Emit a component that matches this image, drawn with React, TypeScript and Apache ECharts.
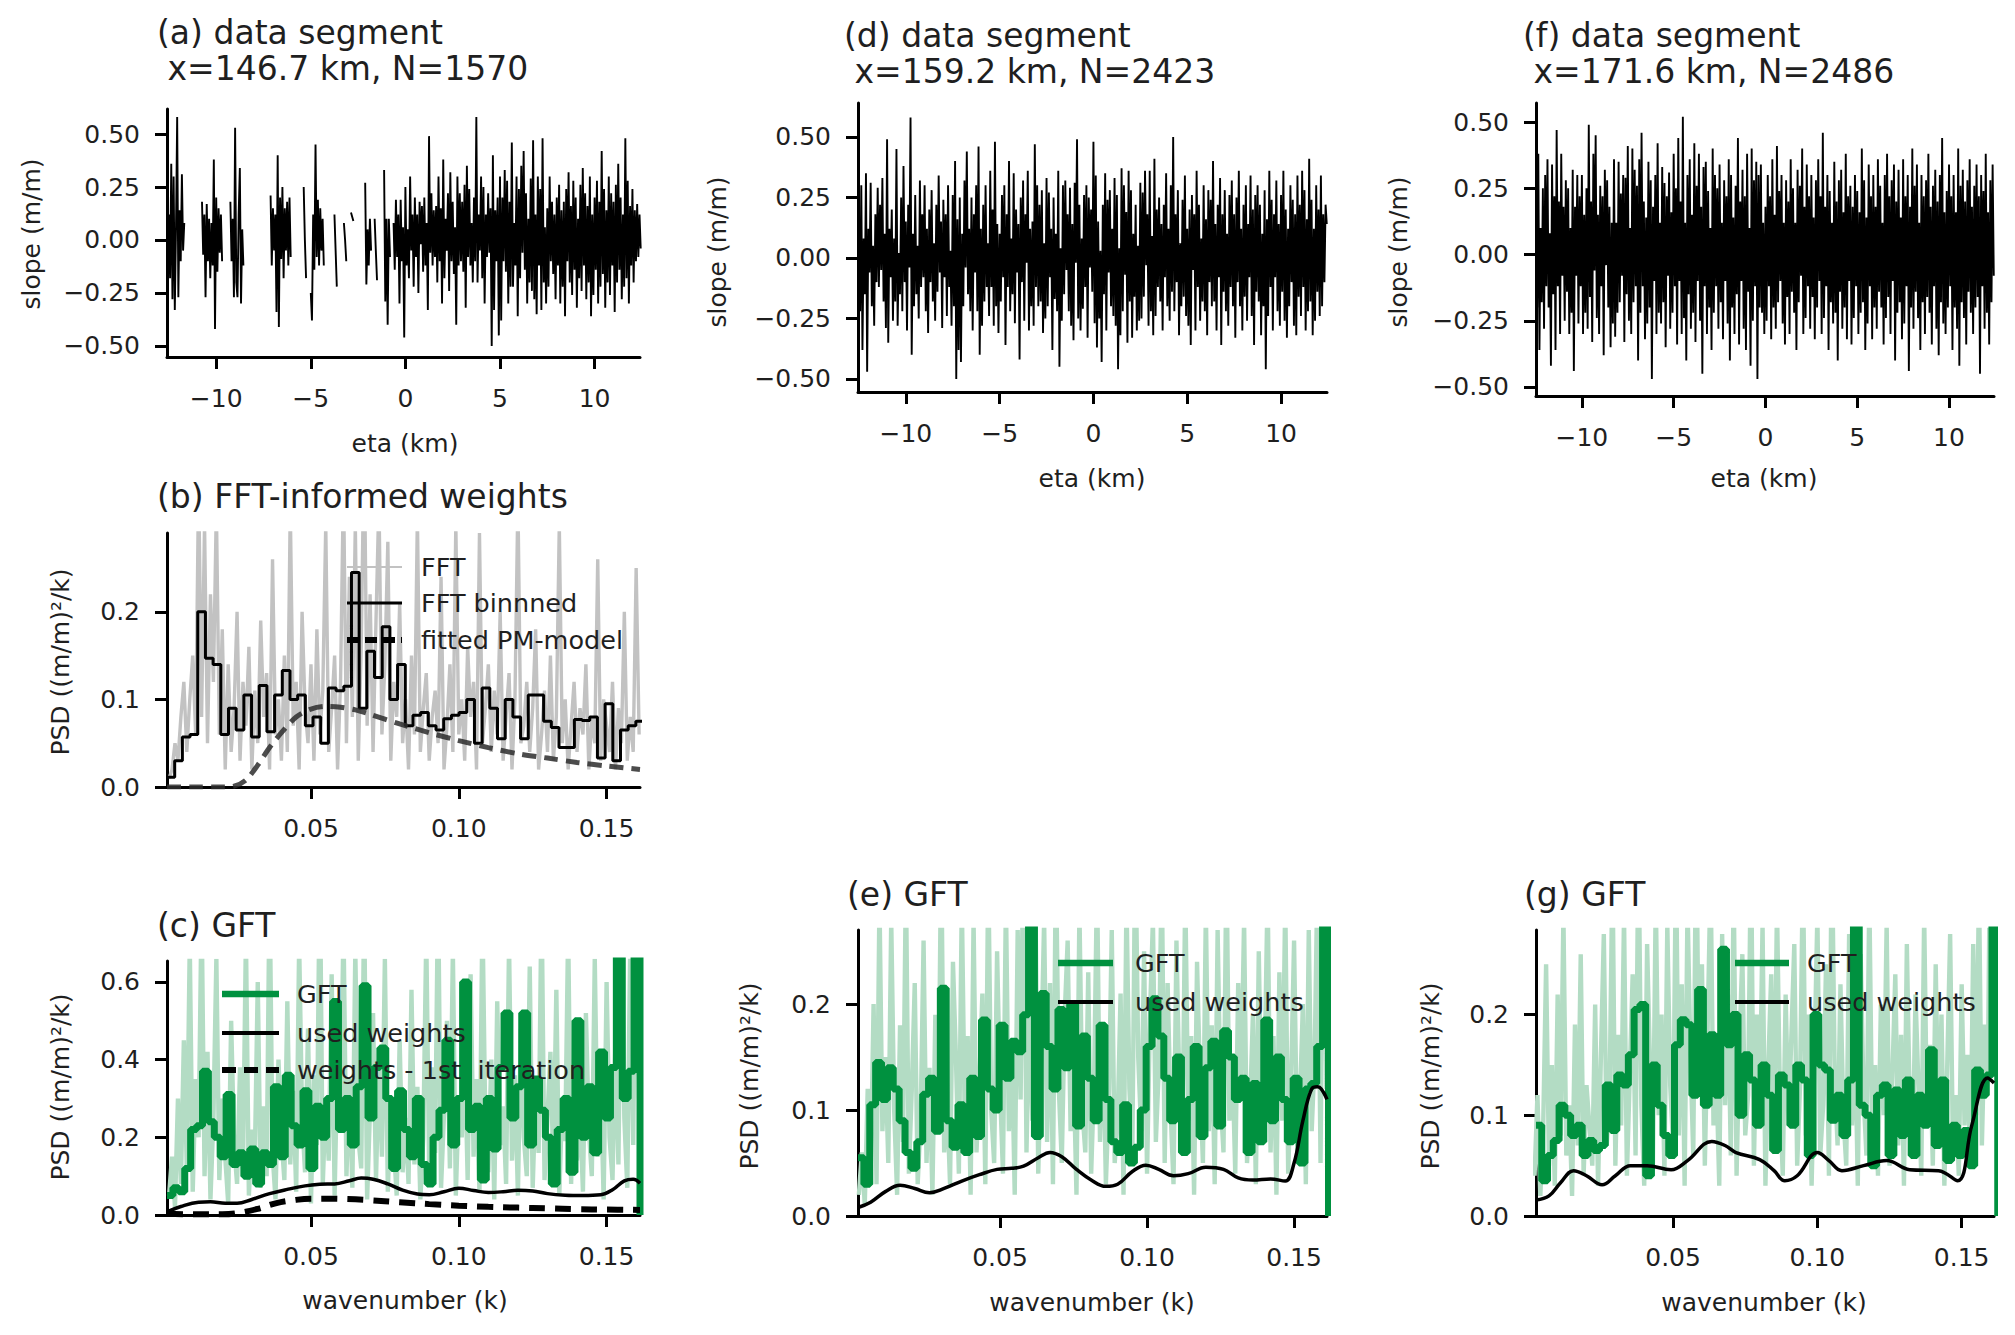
import * as React from "react";
import * as echarts from "echarts";

const FONT = "DejaVu Sans";
const INK = "#1f1f1f";
const GREEN = "#00913f";
const LIGHT_GREEN = "#b3dcc4";
const GREY = "#c2c2c2";

// ---------- tick labels ----------
const etaTicks = [-10, -5, 0, 5, 10];
const slopeTicks = [-0.5, -0.25, 0, 0.25, 0.5];
const kTicks = [0.05, 0.1, 0.15];
const psdTicksSmall = [0, 0.1, 0.2];
const psdTicksC = [0, 0.2, 0.4, 0.6];

// ---------- slope segments (eta grid, km) ----------
const ETA_START = -12.5;
const ETA_STEP = 0.0625;

// panel (a) has gaps: each piece starts at eta0
const slopeASegments: { eta0: number; values: number[] }[] = [
  { eta0: -12.5, values: [0.12, -0.18, 0.36, -0.28, 0.3, -0.33, 0.05, 0.58, -0.27, 0.14, -0.1, 0.31, -0.05, 0.08] },
  { eta0: -10.75, values: [0.18, -0.07, 0.12, -0.27, 0.17, -0.1, 0.1, -0.18, 0.08, -0.12, 0.38, -0.42, 0.2, -0.15, 0.15, -0.06, 0.12, -0.1] },
  { eta0: -9.25, values: [0.18, -0.1, 0.1, -0.27, 0.53, -0.2, -0.27, 0.12, 0.34, -0.3, 0.05, -0.12] },
  { eta0: -7.125, values: [0.21, -0.12, 0.15, -0.05, 0.12, -0.34, 0.4, -0.41, 0.2, -0.09, 0.25, -0.18, 0.15, -0.05, 0.18, -0.12, 0.2, -0.08] },
  { eta0: -5.375, values: [0.25, 0.0, -0.18] },
  { eta0: -5.0, values: [-0.25, -0.38, 0.12, -0.14, 0.45, -0.08, 0.19, -0.12, 0.15, -0.05, 0.1, -0.12] },
  { eta0: -3.75, values: [0.12, -0.05, -0.22] },
  { eta0: -3.25, values: [0.08, 0.0, -0.1] },
  { eta0: -2.875, values: [0.13, 0.11, 0.09] },
  { eta0: -2.125, values: [0.27, -0.21, 0.05, -0.12, 0.1, -0.05] },
  { eta0: -1.625, values: [0.1, -0.05, -0.19] },
  { eta0: -1.125, values: [0.33, -0.29, 0.1, -0.4, 0.1, -0.08] },
  {
    eta0: -0.625,
    values: [
      0.08, -0.14, 0.19, -0.08, 0.12, -0.3, 0.19, -0.1, 0.06, -0.46, 0.25, -0.12, 0.05, -0.18, 0.3, -0.05, 0.12, -0.22, 0.2, -0.08,
      0.12, -0.25, 0.18, -0.02, 0.16, -0.15, 0.2, -0.12, 0.08, -0.33, 0.49, -0.06, 0.22, -0.12, 0.14, -0.08, 0.16, -0.2, 0.3, -0.1,
      0.15, -0.3, 0.38, -0.18, 0.1, -0.05, 0.22, -0.24, 0.32, -0.1, 0.18, -0.16, 0.06, -0.4, 0.3, -0.12, 0.22, -0.1, 0.18, -0.15,
      0.26, -0.32, 0.35, -0.08, 0.24, -0.12, 0.08, -0.2, 0.2, -0.1, 0.58, -0.2, 0.12, -0.05, 0.3, -0.18, 0.25, -0.3, 0.12, -0.08,
      0.22, -0.06, 0.15, -0.5, 0.4, -0.33, 0.14, -0.1, 0.2, -0.45, 0.3, -0.38, 0.2, -0.1, 0.33, -0.15, 0.28, -0.3, 0.18, -0.22,
      0.46, -0.22, 0.08, -0.12, 0.3, -0.36, 0.24, -0.18, 0.35, -0.06, 0.42, -0.14, 0.22, -0.3, 0.1, -0.2, 0.29, -0.24, 0.47, -0.28,
      0.12, -0.35, 0.3, -0.12, 0.24, -0.33, 0.48, -0.2, 0.06, -0.3, 0.15, -0.22, 0.3, -0.1, 0.18, -0.16, 0.12, -0.28, 0.2, -0.12,
      0.26, -0.3, 0.14, -0.22, 0.18, -0.36, 0.24, -0.1, 0.32, -0.2, 0.16, -0.26, 0.28, -0.14, 0.2, -0.32, 0.1, -0.18, 0.26, -0.24,
      0.34, -0.12, 0.22, -0.28, 0.16, -0.2, 0.3, -0.36, 0.12, -0.26, 0.2, -0.14, 0.28, -0.3, 0.18, -0.22, 0.42, -0.16, 0.24, -0.32,
      0.14, -0.2, 0.3, -0.26, 0.22, -0.12, 0.18, -0.34, 0.26, -0.2, 0.36, -0.14, 0.2, -0.28, 0.12, -0.22, 0.48, -0.18, 0.28, -0.3,
      0.16, -0.12, 0.24, -0.2, 0.14, -0.1, 0.17, -0.08, 0.12, -0.04,
    ],
  },
];

const slopeD = [
  0.14, -0.22, 0.3, -0.38, 0.08, -0.15, 0.35, -0.47, 0.12, -0.06, 0.31, -0.2, 0.05, -0.28, 0.18, -0.1, 0.29, -0.12, 0.22, -0.05,
  0.33, -0.18, 0.1, -0.29, 0.49, -0.35, 0.12, -0.08, 0.2, -0.26, 0.08, -0.18, 0.45, -0.28, 0.02, -0.15, 0.25, -0.22, 0.38, -0.1,
  0.15, -0.3, 0.22, -0.04, 0.58, -0.4, 0.1, -0.2, 0.26, -0.15, 0.05, -0.25, 0.32, -0.12, 0.18, -0.08, 0.3, -0.22, 0.12, -0.31,
  0.2, -0.1, 0.28, -0.18, 0.06, -0.26, 0.22, -0.14, 0.34, -0.06, 0.15, -0.29, 0.24, -0.08, 0.18, -0.24, 0.3, -0.12, 0.03, -0.28,
  0.26, -0.2, 0.4, -0.5, 0.16, -0.38, 0.25, -0.43, 0.1, -0.2, 0.32, -0.04, 0.44, -0.15, 0.12, -0.22, 0.25, -0.3, 0.18, -0.06,
  0.3, -0.22, 0.46, -0.4, 0.12, -0.28, 0.22, -0.18, 0.3, -0.12, 0.06, -0.24, 0.36, -0.12, 0.2, -0.28, 0.48, -0.2, 0.14, -0.31,
  0.1, -0.18, 0.26, -0.08, 0.3, -0.36, 0.18, -0.12, 0.4, -0.22, 0.08, -0.15, 0.35, -0.27, 0.2, -0.06, 0.14, -0.42, 0.25, -0.1,
  0.32, -0.26, 0.18, -0.02, 0.36, -0.3, 0.12, -0.2, 0.15, -0.28, 0.47, -0.12, 0.3, -0.2, 0.22, -0.18, 0.28, -0.31, 0.06, -0.25,
  0.33, -0.2, 0.27, -0.08, 0.12, -0.38, 0.25, -0.17, 0.1, -0.22, 0.36, -0.45, 0.04, -0.26, 0.3, -0.15, 0.32, -0.05, 0.18, -0.22,
  0.29, -0.28, 0.14, -0.34, 0.31, -0.02, 0.49, -0.25, 0.22, -0.3, 0.08, -0.21, 0.26, -0.12, 0.3, -0.33, 0.25, -0.04, 0.2, -0.14,
  0.48, -0.27, 0.34, -0.37, 0.15, -0.25, 0.03, -0.43, 0.22, -0.15, 0.35, -0.3, 0.24, -0.06, 0.28, -0.2, 0.12, -0.24, 0.33, -0.28,
  0.26, -0.46, 0.04, -0.32, 0.37, -0.22, 0.3, -0.07, 0.19, -0.35, 0.36, -0.18, 0.28, -0.33, 0.1, -0.16, 0.22, -0.3, 0.05, -0.26,
  0.31, -0.25, 0.27, -0.16, 0.36, -0.03, 0.18, -0.28, 0.36, -0.22, 0.09, -0.32, 0.41, -0.24, 0.2, -0.12, 0.25, -0.18, 0.14, -0.3,
  0.22, -0.08, 0.35, -0.2, 0.12, -0.26, 0.3, -0.14, 0.5, -0.22, 0.18, -0.1, 0.28, -0.32, 0.06, -0.2, 0.24, -0.16, 0.34, -0.24,
  0.12, -0.28, 0.2, -0.36, 0.26, -0.05, 0.18, -0.3, 0.36, -0.12, 0.22, -0.26, 0.08, -0.18, 0.3, -0.22, 0.16, -0.32, 0.28, -0.1,
  0.24, -0.2, 0.4, -0.18, 0.14, -0.3, 0.22, -0.08, 0.33, -0.36, 0.18, -0.14, 0.28, -0.22, 0.1, -0.28, 0.26, -0.12, 0.32, -0.2,
  0.18, -0.33, 0.25, -0.1, 0.36, -0.2, 0.12, -0.3, 0.22, -0.16, 0.3, -0.26, 0.14, -0.08, 0.34, -0.24, 0.2, -0.36, 0.26, -0.14,
  0.3, -0.18, 0.22, -0.32, 0.1, -0.2, 0.28, -0.46, 0.16, -0.24, 0.36, -0.12, 0.24, -0.3, 0.18, -0.08, 0.32, -0.22, 0.14, -0.28,
  0.26, -0.14, 0.36, -0.26, 0.2, -0.33, 0.12, -0.2, 0.3, -0.1, 0.24, -0.28, 0.18, -0.32, 0.34, -0.16, 0.22, -0.24, 0.36, -0.12,
  0.28, -0.3, 0.16, -0.22, 0.41, -0.18, 0.24, -0.32, 0.12, -0.26, 0.3, -0.14, 0.2, -0.24, 0.34, -0.2, 0.18, -0.1, 0.22, 0.14,
];

const slopeF = [
  0.33, -0.2, 0.38, -0.36, 0.1, -0.18, 0.25, -0.28, 0.3, -0.12, 0.36, -0.2, 0.08, -0.42, 0.34, -0.15, 0.22, -0.36, 0.47, -0.12,
  0.2, -0.3, 0.38, -0.08, 0.18, -0.25, 0.28, -0.14, 0.25, -0.3, 0.1, -0.22, 0.32, -0.44, 0.18, -0.08, 0.3, -0.26, 0.22, -0.12,
  0.3, -0.3, 0.15, -0.22, 0.25, -0.28, 0.49, -0.16, 0.2, -0.33, 0.38, -0.06, 0.45, -0.24, 0.15, -0.3, 0.26, -0.12, 0.22, -0.38,
  0.32, -0.04, 0.28, -0.2, 0.18, -0.35, 0.12, -0.26, 0.36, -0.31, 0.12, -0.22, 0.35, -0.18, 0.23, -0.08, 0.3, -0.33, 0.29, -0.15,
  0.41, -0.25, 0.1, -0.3, 0.4, -0.18, 0.32, -0.12, 0.26, -0.4, 0.36, -0.22, 0.46, -0.12, 0.2, -0.32, 0.14, -0.26, 0.35, -0.2,
  0.28, -0.47, 0.18, -0.1, 0.3, -0.3, 0.42, -0.22, 0.12, -0.26, 0.33, -0.18, 0.27, -0.35, 0.22, -0.08, 0.31, -0.28, 0.16, -0.22,
  0.38, -0.12, 0.25, -0.34, 0.44, -0.1, 0.2, -0.3, 0.52, -0.24, 0.12, -0.4, 0.3, -0.15, 0.36, -0.28, 0.15, -0.22, 0.42, -0.33,
  0.26, -0.1, 0.38, -0.25, 0.18, -0.45, 0.33, -0.12, 0.35, -0.3, 0.24, -0.2, 0.1, -0.36, 0.4, -0.22, 0.3, -0.12, 0.25, -0.28,
  0.34, -0.18, 0.12, -0.32, 0.28, -0.1, 0.22, -0.26, 0.36, -0.4, 0.3, -0.2, 0.14, -0.3, 0.26, -0.15, 0.44, -0.34, 0.2, -0.1,
  0.32, -0.28, 0.22, -0.36, 0.38, -0.14, 0.1, -0.42, 0.4, -0.25, 0.28, -0.12, 0.35, -0.47, 0.3, -0.2, 0.34, -0.22, 0.12, -0.3,
  0.18, -0.25, 0.3, -0.12, 0.22, -0.32, 0.36, -0.2, 0.15, -0.28, 0.41, -0.18, 0.24, -0.1, 0.3, -0.26, 0.12, -0.34, 0.28, -0.16,
  0.2, -0.3, 0.36, -0.14, 0.25, -0.22, 0.12, -0.36, 0.32, -0.18, 0.26, -0.08, 0.4, -0.3, 0.18, -0.24, 0.34, -0.12, 0.22, -0.28,
  0.3, -0.16, 0.14, -0.32, 0.28, -0.2, 0.36, -0.1, 0.22, -0.3, 0.46, -0.24, 0.18, -0.12, 0.3, -0.36, 0.24, -0.18, 0.12, -0.26,
  0.35, -0.22, 0.2, -0.4, 0.28, -0.14, 0.32, -0.28, 0.16, -0.2, 0.38, -0.32, 0.22, -0.1, 0.26, -0.34, 0.18, -0.24, 0.3, -0.12,
  0.24, -0.3, 0.16, -0.22, 0.4, -0.18, 0.28, -0.36, 0.14, -0.26, 0.34, -0.12, 0.22, -0.32, 0.3, -0.2, 0.18, -0.28, 0.36, -0.14,
  0.26, -0.2, 0.12, -0.34, 0.3, -0.24, 0.38, -0.16, 0.22, -0.3, 0.28, -0.1, 0.34, -0.4, 0.2, -0.22, 0.32, -0.18, 0.14, -0.32,
  0.36, -0.26, 0.22, -0.12, 0.3, -0.44, 0.18, -0.2, 0.4, -0.28, 0.26, -0.14, 0.34, -0.24, 0.12, -0.36, 0.3, -0.18, 0.22, -0.3,
  0.28, -0.16, 0.38, -0.22, 0.18, -0.34, 0.26, -0.12, 0.32, -0.28, 0.2, -0.38, 0.3, -0.18, 0.44, -0.26, 0.16, -0.3, 0.24, -0.2,
  0.34, -0.12, 0.22, -0.36, 0.3, -0.2, 0.16, -0.28, 0.4, -0.42, 0.26, -0.18, 0.32, -0.24, 0.2, -0.34, 0.28, -0.14, 0.36, -0.22,
  0.18, -0.3, 0.26, -0.2, 0.34, -0.16, 0.22, -0.45, 0.3, -0.12, 0.24, -0.28, 0.38, -0.22, 0.16, -0.34, 0.28, -0.18, 0.34, -0.08,
];

// ---------- raw spectra (wavenumber grid) ----------
const K_RAW_START = 0.002;
const K_RAW_STEP = 0.001;

const fftRawB = [
  0.01, 0.02, 0.05, 0.03, 0.08, 0.12, 0.04, 0.1, 0.15, 0.06,
  0.35, 0.08, 0.3, 0.05, 0.22, 0.12, 0.32, 0.06, 0.18, 0.02,
  0.14, 0.04, 0.09, 0.2, 0.03, 0.12, 0.07, 0.16, 0.02, 0.11,
  0.05, 0.19, 0.08, 0.13, 0.02, 0.26, 0.06, 0.1, 0.03, 0.15,
  0.04, 0.32, 0.07, 0.12, 0.02, 0.2, 0.09, 0.05, 0.14, 0.03,
  0.18, 0.06, 0.11, 0.3, 0.04, 0.09, 0.15, 0.02, 0.12, 0.35,
  0.05, 0.24, 0.08, 0.3, 0.03, 0.16, 0.4, 0.07, 0.22, 0.04,
  0.19, 0.33, 0.06, 0.14, 0.28, 0.03, 0.12, 0.08, 0.21, 0.05,
  0.1, 0.02, 0.15, 0.06, 0.31, 0.04, 0.09, 0.13, 0.03, 0.08,
  0.11, 0.05, 0.24, 0.02, 0.07, 0.14, 0.04, 0.3, 0.06, 0.1,
  0.03, 0.16, 0.08, 0.12, 0.02, 0.29, 0.05, 0.09, 0.14, 0.04,
  0.11, 0.06, 0.2, 0.03, 0.08, 0.13, 0.02, 0.1, 0.33, 0.05,
  0.07, 0.12, 0.04, 0.09, 0.18, 0.02, 0.06, 0.11, 0.04, 0.15,
  0.03, 0.08, 0.3, 0.05, 0.1, 0.02, 0.07, 0.12, 0.04, 0.09,
  0.06, 0.14, 0.02, 0.08, 0.05, 0.26, 0.03, 0.1, 0.07, 0.04,
  0.12, 0.02, 0.09, 0.05, 0.2, 0.03, 0.08, 0.04, 0.25, 0.06,
];

const gftRawC = [
  0.05, 0.15, 0.02, 0.3, 0.08, 0.45, 0.12, 0.7, 0.06, 0.35,
  0.2, 0.8, 0.1, 0.42, 0.04, 0.25, 0.66, 0.09, 0.3, 0.15,
  0.03, 0.5, 0.18, 0.08, 0.38, 0.12, 0.72, 0.05, 0.22, 0.14,
  0.6, 0.07, 0.28, 0.1, 0.85, 0.16, 0.04, 0.4, 0.2, 0.09,
  0.55, 0.13, 0.32, 0.06, 0.7, 0.25, 0.11, 0.48, 0.03, 0.36,
  0.18, 0.9, 0.08, 0.3, 0.14, 0.62, 0.05, 0.42, 0.22, 0.75,
  0.1, 0.35, 0.07, 0.68, 0.2, 0.12, 0.8, 0.04, 0.28, 0.52,
  0.09, 0.4, 0.15, 0.66, 0.06, 0.3, 0.18, 0.05, 0.45, 0.11,
  0.25, 0.08, 0.58, 0.13, 0.33, 0.04, 0.2, 0.72, 0.1, 0.38,
  0.16, 0.85, 0.07, 0.26, 0.5, 0.12, 0.68, 0.05, 0.3, 0.2,
  0.44, 0.09, 0.62, 0.15, 0.35, 0.06, 0.78, 0.22, 0.11, 0.4,
  0.04, 0.55, 0.18, 0.28, 0.08, 0.7, 0.14, 0.36, 0.05, 0.48,
  0.2, 0.1, 0.64, 0.07, 0.32, 0.16, 0.82, 0.09, 0.25, 0.42,
  0.12, 0.58, 0.05, 0.3, 0.19, 0.74, 0.08, 0.4, 0.14, 0.27,
  0.06, 0.52, 0.22, 0.1, 0.66, 0.15, 0.35, 0.04, 0.6, 0.2,
  0.09, 0.45, 0.13, 0.8, 0.25, 0.07, 0.7, 0.18, 0.95, 0.3,
];

const gftRawE = [
  0.02, 0.06, 0.01, 0.12, 0.04, 0.2, 0.03, 0.3, 0.08, 0.15,
  0.05, 0.28, 0.1, 0.02, 0.18, 0.07, 0.32, 0.04, 0.12, 0.22,
  0.03, 0.09, 0.26, 0.05, 0.14, 0.02, 0.19, 0.08, 0.35, 0.06,
  0.11, 0.03, 0.24, 0.15, 0.04, 0.3, 0.09, 0.17, 0.02, 0.28,
  0.06, 0.13, 0.21, 0.03, 0.33, 0.1, 0.05, 0.25, 0.12, 0.04,
  0.3, 0.08, 0.16, 0.02, 0.27, 0.11, 0.38, 0.06, 0.2, 0.09,
  0.31, 0.04, 0.15, 0.28, 0.07, 0.22, 0.03, 0.34, 0.12, 0.05,
  0.19, 0.26, 0.08, 0.14, 0.02, 0.29, 0.1, 0.06, 0.23, 0.04,
  0.13, 0.32, 0.07, 0.18, 0.03, 0.11, 0.27, 0.05, 0.09, 0.21,
  0.02, 0.3, 0.12, 0.06, 0.36, 0.15, 0.08, 0.25, 0.04, 0.19,
  0.28, 0.07, 0.14, 0.33, 0.05, 0.22, 0.1, 0.03, 0.26, 0.12,
  0.06, 0.31, 0.09, 0.17, 0.02, 0.24, 0.13, 0.05, 0.29, 0.08,
  0.18, 0.03, 0.27, 0.11, 0.06, 0.34, 0.09, 0.15, 0.04, 0.22,
  0.12, 0.28, 0.05, 0.1, 0.19, 0.03, 0.25, 0.08, 0.14, 0.31,
  0.06, 0.17, 0.02, 0.23, 0.09, 0.3, 0.04, 0.13, 0.26, 0.07,
  0.11, 0.2, 0.03, 0.27, 0.08, 0.15, 0.33, 0.05, 0.38, 0.12,
];

const gftRawG = [
  0.04, 0.12, 0.02, 0.09, 0.25, 0.05, 0.15, 0.03, 0.22, 0.08,
  0.3, 0.06, 0.11, 0.02, 0.19, 0.07, 0.26, 0.04, 0.13, 0.09,
  0.05, 0.21, 0.03, 0.16, 0.28, 0.07, 0.12, 0.35, 0.05, 0.18,
  0.09, 0.3, 0.04, 0.14, 0.24, 0.06, 0.38, 0.11, 0.03, 0.27,
  0.15, 0.05, 0.32, 0.1, 0.2, 0.04, 0.29, 0.13, 0.07, 0.36,
  0.08, 0.23, 0.03, 0.31, 0.16, 0.06, 0.4, 0.12, 0.25, 0.05,
  0.19, 0.34, 0.09, 0.14, 0.03, 0.28, 0.11, 0.22, 0.06, 0.33,
  0.04, 0.17, 0.26, 0.08, 0.12, 0.37, 0.05, 0.2, 0.1, 0.29,
  0.03, 0.15, 0.24, 0.07, 0.31, 0.12, 0.04, 0.22, 0.09, 0.18,
  0.27, 0.05, 0.13, 0.35, 0.08, 0.2, 0.03, 0.16, 0.3, 0.06,
  0.11, 0.25, 0.04, 0.38, 0.14, 0.07, 0.23, 0.1, 0.05, 0.28,
  0.09, 0.19, 0.03, 0.26, 0.12, 0.06, 0.32, 0.08, 0.15, 0.04,
  0.21, 0.1, 0.29, 0.05, 0.14, 0.24, 0.07, 0.18, 0.03, 0.27,
  0.11, 0.06, 0.22, 0.13, 0.04, 0.3, 0.09, 0.17, 0.05, 0.25,
  0.08, 0.2, 0.03, 0.15, 0.28, 0.06, 0.12, 0.04, 0.23, 0.09,
  0.16, 0.05, 0.27, 0.1, 0.33, 0.07, 0.19, 0.12, 0.42, 0.14,
];

// ---------- binned spectra ----------
const BIN_B_START = 0.0013;
const BIN_B_WIDTH = 0.0026;
const fftBinnedB = [
  0.011, 0.03, 0.057, 0.06, 0.2, 0.147, 0.14, 0.06, 0.09, 0.065,
  0.105, 0.057, 0.116, 0.063, 0.105, 0.133, 0.1, 0.105, 0.07, 0.08,
  0.05, 0.113, 0.11, 0.115, 0.245, 0.09, 0.155, 0.125, 0.183, 0.1,
  0.14, 0.07, 0.082, 0.085, 0.07, 0.065, 0.078, 0.082, 0.085, 0.1,
  0.05, 0.113, 0.09, 0.055, 0.1, 0.08, 0.055, 0.105, 0.105, 0.075,
  0.068, 0.045, 0.045, 0.077, 0.076, 0.08, 0.033, 0.095, 0.03, 0.065,
  0.07, 0.075,
];

const BIN_C_START = 0.0013;
const BIN_E_START = 0.0017;
const BIN_G_START = 0.0025;
const BIN_GFT_WIDTH = 0.002;

const gftBinnedC = [
  0.05, 0.07, 0.06, 0.12, 0.22, 0.23, 0.37, 0.24, 0.2, 0.15,
  0.31, 0.13, 0.16, 0.1, 0.17, 0.08, 0.16, 0.13, 0.33, 0.15,
  0.36, 0.23, 0.18, 0.32, 0.12, 0.28, 0.2, 0.3, 0.55, 0.22,
  0.3, 0.18, 0.33, 0.59, 0.25, 0.38, 0.43, 0.3, 0.12, 0.32,
  0.22, 0.15, 0.3, 0.13, 0.08, 0.2, 0.27, 0.45, 0.18, 0.3,
  0.6, 0.22, 0.28, 0.09, 0.3, 0.17, 0.38, 0.52, 0.25, 0.33,
  0.52, 0.18, 0.35, 0.27, 0.2, 0.08, 0.22, 0.3, 0.11, 0.5,
  0.2, 0.33, 0.16, 0.42, 0.25, 0.38, 0.7, 0.3, 0.37, 0.7,
];

const gftBinnedE = [
  0.055, 0.03, 0.105, 0.145, 0.11, 0.14, 0.12, 0.09, 0.06, 0.045,
  0.07, 0.115, 0.13, 0.08, 0.215, 0.09, 0.065, 0.105, 0.06, 0.13,
  0.075, 0.185, 0.12, 0.1, 0.18, 0.13, 0.165, 0.155, 0.19, 0.3,
  0.075, 0.21, 0.16, 0.12, 0.195, 0.14, 0.2, 0.085, 0.17, 0.13,
  0.09, 0.18, 0.11, 0.07, 0.06, 0.105, 0.05, 0.065, 0.1, 0.16,
  0.205, 0.17, 0.13, 0.09, 0.15, 0.06, 0.11, 0.16, 0.075, 0.14,
  0.165, 0.085, 0.175, 0.15, 0.11, 0.13, 0.06, 0.125, 0.07, 0.185,
  0.09, 0.15, 0.11, 0.07, 0.13, 0.05, 0.12, 0.125, 0.16, 0.3,
];

const gftBinnedG = [
  0.09, 0.035, 0.06, 0.075, 0.11, 0.1, 0.08, 0.09, 0.06, 0.075,
  0.065, 0.07, 0.13, 0.085, 0.14, 0.13, 0.16, 0.205, 0.21, 0.04,
  0.15, 0.11, 0.08, 0.06, 0.17, 0.195, 0.19, 0.12, 0.225, 0.11,
  0.18, 0.12, 0.265, 0.17, 0.2, 0.1, 0.16, 0.135, 0.09, 0.15,
  0.12, 0.065, 0.14, 0.13, 0.09, 0.15, 0.135, 0.06, 0.2, 0.15,
  0.145, 0.095, 0.12, 0.08, 0.135, 0.3, 0.11, 0.1, 0.05, 0.12,
  0.13, 0.06, 0.125, 0.08, 0.135, 0.06, 0.12, 0.09, 0.165, 0.07,
  0.135, 0.055, 0.09, 0.06, 0.085, 0.05, 0.145, 0.12, 0.14, 0.3,
];

// ---------- model / weight curves [k, value] ----------
const pmModelB: [number, number][] = [
  [0.0013, 0], [0.01, 0], [0.02, 0], [0.024, 0.001], [0.028, 0.008], [0.032, 0.025],
  [0.036, 0.045], [0.04, 0.062], [0.045, 0.08], [0.05, 0.089], [0.055, 0.092],
  [0.06, 0.091], [0.065, 0.088], [0.07, 0.083], [0.08, 0.072], [0.09, 0.062],
  [0.1, 0.053], [0.11, 0.045], [0.12, 0.038], [0.13, 0.033], [0.14, 0.028],
  [0.15, 0.024], [0.1613, 0.02],
];

const weightsC: [number, number][] = [
  [0.0013, 0.008], [0.006, 0.022], [0.012, 0.033], [0.016, 0.034], [0.021, 0.03],
  [0.025, 0.03], [0.03, 0.04], [0.036, 0.055], [0.042, 0.066], [0.048, 0.075],
  [0.053, 0.079], [0.058, 0.08], [0.063, 0.088], [0.067, 0.095], [0.071, 0.092],
  [0.076, 0.08], [0.081, 0.064], [0.086, 0.054], [0.09, 0.052], [0.095, 0.06],
  [0.1, 0.069], [0.105, 0.063], [0.11, 0.058], [0.115, 0.06], [0.12, 0.064],
  [0.125, 0.062], [0.13, 0.055], [0.136, 0.051], [0.142, 0.05], [0.148, 0.052],
  [0.152, 0.065], [0.156, 0.088], [0.159, 0.092], [0.1613, 0.082],
];

const weightsFirstC: [number, number][] = [
  [0.0013, 0.003], [0.01, 0.002], [0.02, 0.002], [0.026, 0.006], [0.032, 0.016],
  [0.038, 0.03], [0.044, 0.038], [0.05, 0.042], [0.056, 0.042], [0.062, 0.041],
  [0.07, 0.038], [0.08, 0.033], [0.09, 0.028], [0.1, 0.024], [0.11, 0.021],
  [0.12, 0.019], [0.13, 0.017], [0.14, 0.015], [0.15, 0.014], [0.1613, 0.013],
];

const weightsE: [number, number][] = [
  [0.0017, 0.008], [0.006, 0.013], [0.011, 0.023], [0.016, 0.029], [0.021, 0.026],
  [0.026, 0.022], [0.031, 0.026], [0.037, 0.033], [0.043, 0.039], [0.049, 0.044],
  [0.054, 0.045], [0.058, 0.047], [0.063, 0.055], [0.067, 0.06], [0.071, 0.056],
  [0.076, 0.044], [0.081, 0.034], [0.086, 0.028], [0.09, 0.03], [0.095, 0.042],
  [0.0996, 0.048], [0.104, 0.044], [0.109, 0.038], [0.114, 0.04], [0.12, 0.046],
  [0.126, 0.044], [0.131, 0.036], [0.136, 0.034], [0.142, 0.035], [0.147, 0.033],
  [0.15, 0.05], [0.153, 0.09], [0.156, 0.12], [0.158, 0.122], [0.1612, 0.11],
];

const weightsG: [number, number][] = [
  [0.0025, 0.016], [0.007, 0.02], [0.011, 0.033], [0.0155, 0.045], [0.02, 0.04],
  [0.0254, 0.031], [0.03, 0.04], [0.0352, 0.05], [0.041, 0.05], [0.0493, 0.046],
  [0.055, 0.055], [0.0634, 0.074], [0.068, 0.07], [0.0718, 0.063], [0.08, 0.056],
  [0.085, 0.045], [0.0887, 0.035], [0.093, 0.04], [0.1, 0.063], [0.104, 0.055],
  [0.1085, 0.045], [0.116, 0.05], [0.124, 0.055], [0.132, 0.046], [0.142, 0.045],
  [0.1486, 0.035], [0.1535, 0.09], [0.159, 0.137], [0.1612, 0.132],
];

// ---------- helpers ----------
const fmt = (v: number, digits: number) => v.toFixed(digits).replace("-", "\u2212");

function onGrid(values: number[], start: number, step: number) {
  return values.map((v, i) => [start + i * step, v]);
}

function segmented(segs: { eta0: number; values: number[] }[], step: number) {
  const out: any[] = [];
  segs.forEach((s) => {
    s.values.forEach((v, i) => out.push([s.eta0 + i * step, v]));
    out.push([s.eta0 + s.values.length * step, "-"]);
  });
  return out;
}

function stepPoints(values: number[], start: number, width: number, dropAtEnd: boolean) {
  const pts = values.map((v, i) => [start + i * width, v]);
  pts.push([start + values.length * width, dropAtEnd ? 0 : values[values.length - 1]]);
  return pts;
}

type Panel = {
  left: number; top: number; width: number; height: number;
  xMin: number; xMax: number; yMin: number; yMax: number;
  xTicks: number[]; yTicks: number[]; xDigits: number; yDigits: number;
};

const panels: Panel[] = [
  // 0 (a)
  { left: 167, top: 109, width: 473, height: 248, xMin: -12.6, xMax: 12.4, yMin: -0.552, yMax: 0.618, xTicks: etaTicks, yTicks: slopeTicks, xDigits: 0, yDigits: 2 },
  // 1 (d)
  { left: 858, top: 103, width: 469, height: 289, xMin: -12.55, xMax: 12.45, yMin: -0.554, yMax: 0.64, xTicks: etaTicks, yTicks: slopeTicks, xDigits: 0, yDigits: 2 },
  // 2 (f)
  { left: 1536, top: 103, width: 458, height: 293, xMin: -12.5, xMax: 12.45, yMin: -0.534, yMax: 0.572, xTicks: etaTicks, yTicks: slopeTicks, xDigits: 0, yDigits: 2 },
  // 3 (b)
  { left: 167, top: 533, width: 473, height: 254, xMin: 0.0013, xMax: 0.1613, yMin: 0, yMax: 0.29, xTicks: kTicks, yTicks: psdTicksSmall, xDigits: 2, yDigits: 1 },
  // 4 (c)
  { left: 167, top: 961, width: 473, height: 254, xMin: 0.0013, xMax: 0.1613, yMin: 0, yMax: 0.654, xTicks: kTicks, yTicks: psdTicksC, xDigits: 2, yDigits: 1 },
  // 5 (e)
  { left: 858, top: 930, width: 469, height: 286, xMin: 0.0017, xMax: 0.1612, yMin: 0, yMax: 0.27, xTicks: kTicks, yTicks: psdTicksSmall, xDigits: 2, yDigits: 1 },
  // 6 (g)
  { left: 1536, top: 930, width: 458, height: 286, xMin: 0.0025, xMax: 0.1612, yMin: 0, yMax: 0.284, xTicks: kTicks, yTicks: psdTicksSmall, xDigits: 2, yDigits: 1 },
];

const TICK_FONT = 25;
const LABEL_FONT = 25;
const LEGEND_FONT = 25.5;

function axis(p: Panel, i: number, dir: "x" | "y") {
  const ticks = dir === "x" ? p.xTicks : p.yTicks;
  const digits = dir === "x" ? p.xDigits : p.yDigits;
  return {
    type: "value",
    gridIndex: i,
    min: dir === "x" ? p.xMin : p.yMin,
    max: dir === "x" ? p.xMax : p.yMax,
    splitLine: { show: false },
    axisLine: { show: true, onZero: false, lineStyle: { color: "#000", width: 3 } },
    axisTick: { show: true, length: 12, customValues: ticks, lineStyle: { color: "#000", width: 3 } },
    axisLabel: {
      show: true,
      customValues: ticks,
      margin: dir === "x" ? 29 : 27,
      fontSize: TICK_FONT,
      fontFamily: FONT,
      color: INK,
      formatter: (v: number) => fmt(v, digits),
    },
  };
}

type LineOpts = { step?: string; smooth?: number; dash?: number[] };

function line(grid: number, data: any[], color: string, width: number, opts: LineOpts = {}) {
  return {
    type: "line",
    xAxisIndex: grid,
    yAxisIndex: grid,
    data,
    showSymbol: false,
    symbol: "none",
    connectNulls: false,
    silent: true,
    step: opts.step || false,
    smooth: opts.smooth || false,
    lineStyle: { color, width, type: opts.dash || "solid" },
  };
}

function legendRow(x1: number, x2: number, y: number, tx: number, text: string, stroke: string, width: number, dash?: number[]) {
  return [
    { type: "line", z: 100, shape: { x1, y1: y, x2, y2: y }, style: { stroke, lineWidth: width, lineDash: dash } },
    { type: "text", z: 100, x: tx, y, style: { text, fontSize: LEGEND_FONT, fontFamily: FONT, fill: INK, align: "left", verticalAlign: "middle" } },
  ];
}

function label(x: number, y: number, text: string, vertical: boolean) {
  return {
    type: "text",
    z: 100,
    x,
    y,
    rotation: vertical ? Math.PI / 2 : 0,
    style: { text, fontSize: LABEL_FONT, fontFamily: FONT, fill: INK, align: "center", verticalAlign: "middle" },
  };
}

function titleAt(text: string, left: number, top: number) {
  return {
    text,
    left,
    top,
    padding: 0,
    textStyle: { fontSize: 33, fontWeight: "normal", lineHeight: 36, fontFamily: FONT, color: INK },
  };
}

export default function App() {
  const ref = React.useRef<HTMLDivElement | null>(null);

  React.useEffect(() => {
    if (!ref.current) return;
    const chart = echarts.init(ref.current, undefined, { renderer: "svg" });

    const psd = "PSD ((m/m)\u00b2/k)";
    const slopeW = 1.9;
    const rawGreenW = 4.4;
    const binnedW = 7;

    const option: any = {
      animation: false,
      backgroundColor: "#ffffff",
      title: [
        titleAt("(a) data segment\n x=146.7 km, N=1570", 157, 14),
        titleAt("(d) data segment\n x=159.2 km, N=2423", 844, 17),
        titleAt("(f) data segment\n x=171.6 km, N=2486", 1523, 17),
        titleAt("(b) FFT-informed weights", 157, 478),
        titleAt("(c) GFT", 157, 907),
        titleAt("(e) GFT", 847, 876),
        titleAt("(g) GFT", 1524, 876),
      ],
      grid: panels.map((p) => ({ left: p.left, top: p.top, width: p.width, height: p.height, containLabel: false })),
      xAxis: panels.map((p, i) => axis(p, i, "x")),
      yAxis: panels.map((p, i) => axis(p, i, "y")),
      series: [
        // slope segments
        line(0, segmented(slopeASegments, ETA_STEP), "#000", slopeW),
        line(1, onGrid(slopeD, ETA_START, ETA_STEP), "#000", slopeW),
        line(2, onGrid(slopeF, ETA_START, ETA_STEP), "#000", slopeW),
        // (b)
        line(3, onGrid(fftRawB, K_RAW_START, K_RAW_STEP), GREY, 3.4),
        line(3, stepPoints(fftBinnedB, BIN_B_START, BIN_B_WIDTH, false), "#000", 3, { step: "end" }),
        line(3, pmModelB, "rgba(45,45,45,0.85)", 5, { smooth: 0.3, dash: [14, 8] }),
        // (c)
        line(4, onGrid(gftRawC, K_RAW_START, K_RAW_STEP), LIGHT_GREEN, rawGreenW),
        line(4, stepPoints(gftBinnedC, BIN_C_START, BIN_GFT_WIDTH, true), GREEN, binnedW, { step: "end" }),
        line(4, weightsC, "#000", 3.5, { smooth: 0.4 }),
        line(4, weightsFirstC, "#000", 6, { smooth: 0.4, dash: [16, 10] }),
        // (e)
        line(5, onGrid(gftRawE, K_RAW_START, K_RAW_STEP), LIGHT_GREEN, rawGreenW),
        line(5, stepPoints(gftBinnedE, BIN_E_START, BIN_GFT_WIDTH, true), GREEN, binnedW, { step: "end" }),
        line(5, weightsE, "#000", 3.5, { smooth: 0.4 }),
        // (g)
        line(6, onGrid(gftRawG, K_RAW_START, K_RAW_STEP), LIGHT_GREEN, rawGreenW),
        line(6, stepPoints(gftBinnedG, BIN_G_START, BIN_GFT_WIDTH, true), GREEN, binnedW, { step: "end" }),
        line(6, weightsG, "#000", 3.5, { smooth: 0.4 }),
      ],
      graphic: {
        elements: [
          label(31, 234, "slope (m/m)", true),
          label(717, 252, "slope (m/m)", true),
          label(1398, 252, "slope (m/m)", true),
          label(405, 443, "eta (km)", false),
          label(1092, 478, "eta (km)", false),
          label(1764, 478, "eta (km)", false),
          label(60, 662, psd, true),
          label(60, 1087, psd, true),
          label(749, 1076, psd, true),
          label(1430, 1076, psd, true),
          label(405, 1300, "wavenumber (k)", false),
          label(1092, 1302, "wavenumber (k)", false),
          label(1764, 1302, "wavenumber (k)", false),
          ...legendRow(347, 402, 567, 421, "FFT", GREY, 2),
          ...legendRow(347, 402, 603, 421, "FFT binnned", "#000", 3),
          ...legendRow(347, 402, 640, 421, "fitted PM-model", "#000", 6, [12, 6]),
          ...legendRow(222, 279, 994, 297, "GFT", GREEN, 6.5),
          ...legendRow(222, 279, 1033, 297, "used weights", "#000", 4),
          ...legendRow(222, 279, 1070, 297, "weights - 1st  iteration", "#000", 6, [14, 8]),
          ...legendRow(1058, 1113, 963, 1135, "GFT", GREEN, 6.5),
          ...legendRow(1058, 1113, 1002, 1135, "used weights", "#000", 4),
          ...legendRow(1735, 1789, 963, 1807, "GFT", GREEN, 6.5),
          ...legendRow(1735, 1789, 1002, 1807, "used weights", "#000", 4),
        ],
      },
    };

    chart.setOption(option);
    return () => chart.dispose();
  }, []);

  return (
    <div
      ref={ref}
      style={{ position: "absolute", left: 0, top: 0, width: 2015, height: 1335, background: "#fff" }}
    />
  );
}
